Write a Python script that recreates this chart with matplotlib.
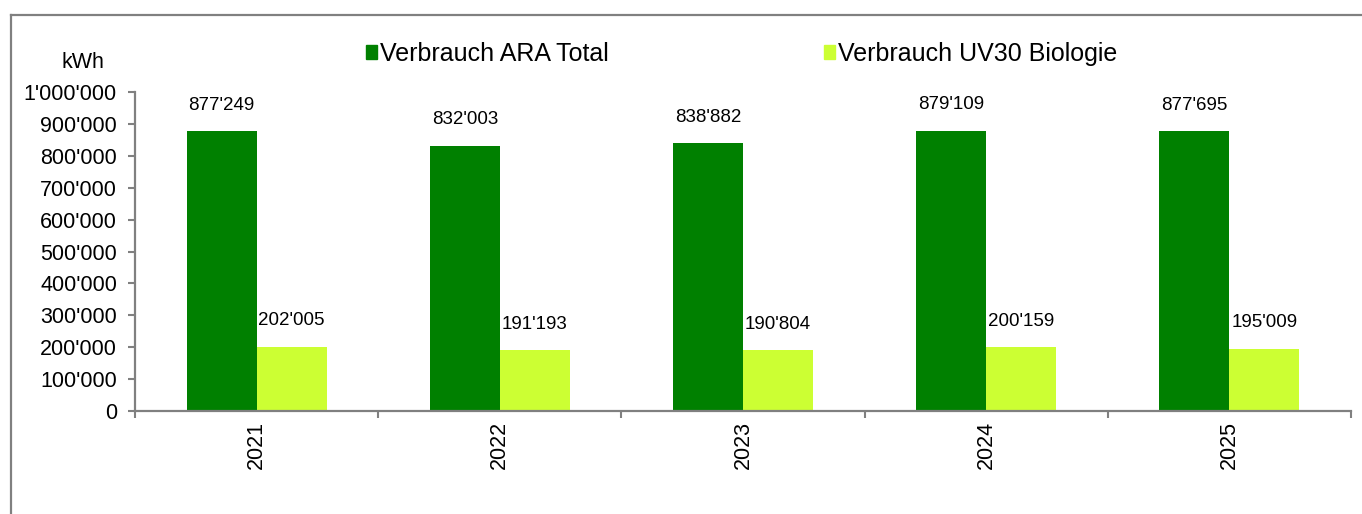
import matplotlib
matplotlib.use('Agg')
import matplotlib.pyplot as plt
from matplotlib.lines import Line2D
from matplotlib.patches import Patch
import numpy as np

# Data
years = ['2021', '2022', '2023', '2024', '2025']
ara_total = [877249, 832003, 838882, 879109, 877695]
uv30_bio = [202005, 191193, 190804, 200159, 195009]
series_names = ['Verbrauch ARA Total', 'Verbrauch UV30 Biologie']

plt.rcParams['font.family'] = ['Liberation Sans', 'DejaVu Sans']

W, H = 1362, 514
fig = plt.figure(figsize=(W / 100, H / 100), dpi=100)
fig.patch.set_facecolor('white')

# outer frame (left + top edge only visible)
frame_col = '#808080'
fig.add_artist(Line2D([11 / W, 11 / W], [0, 1 - 15 / H], color=frame_col, lw=1.6,
                      transform=fig.transFigure))
fig.add_artist(Line2D([11 / W, 1], [1 - 15 / H, 1 - 15 / H], color=frame_col, lw=1.6,
                      transform=fig.transFigure))

ax = fig.add_axes([135 / W, (H - 411) / H, (1351 - 135) / W, (411 - 92) / H])

dark = '#008000'
light = '#CCFF33'
x = np.arange(len(years))
width = 0.288

bars1 = ax.bar(x - width / 2, ara_total, width, color=dark)
bars2 = ax.bar(x + width / 2, uv30_bio, width, color=light)

def fmt(v):
    return f'{v:,}'.replace(',', "'")

for bars, vals in [(bars1, ara_total), (bars2, uv30_bio)]:
    for b, v in zip(bars, vals):
        ax.annotate(fmt(v), (b.get_x() + b.get_width() / 2, v),
                    xytext=(0, 12.5), textcoords='offset points',
                    ha='center', va='bottom', fontsize=13.5)

ax.set_xlim(-0.5, len(years) - 0.5)
ax.set_ylim(0, 1000000)
ax.set_yticks(np.arange(0, 1000001, 100000))
ax.set_yticklabels([fmt(int(v)) for v in np.arange(0, 1000001, 100000)], fontsize=15.5)

# category boundaries as ticks, labels at centres
ax.set_xticks(np.arange(-0.5, len(years), 1.0))
ax.set_xticklabels([])
ax.set_xticks(x, minor=True)
ax.set_xticklabels(years, minor=True, rotation=90, fontsize=15.5)
ax.tick_params(axis='x', which='minor', length=0, pad=7)
ax.tick_params(axis='x', which='major', length=5, color=frame_col, width=1.5)
ax.tick_params(axis='y', length=5, color=frame_col, width=1.5, pad=8)

for s in ['top', 'right']:
    ax.spines[s].set_visible(False)
for s in ['left', 'bottom']:
    ax.spines[s].set_color(frame_col)
    ax.spines[s].set_linewidth(1.6)

fig.text(83 / W, 1 - 62 / H, 'kWh', ha='center', va='center', fontsize=15.5)

handles = [Patch(color=dark), Patch(color=light)]
fig.legend(handles, series_names, ncol=2, loc='center left',
           bbox_to_anchor=(366 / W, 1 - 54 / H), frameon=False,
           fontsize=18, handlelength=0.45, handleheight=0.45,
           handletextpad=0.12, columnspacing=8.6, borderpad=0, borderaxespad=0)

plt.savefig('out.png', dpi=100, facecolor='white')
plt.close()
